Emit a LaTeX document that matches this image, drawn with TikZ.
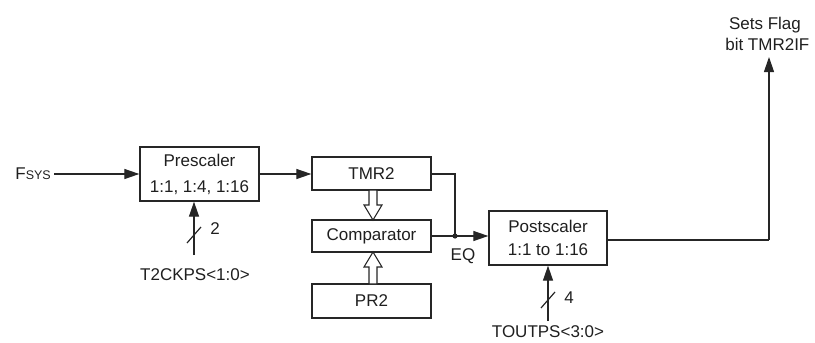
\documentclass[tikz,border=0pt]{standalone}
\usepackage{fontspec}
\setmainfont{Liberation Sans}
\usetikzlibrary{arrows.meta}
\begin{document}
\begin{tikzpicture}[x=1pt,y=-1pt,
  every node/.style={font=\fontsize{17}{26}\selectfont, text=black!88},
  blk/.style={draw=black!85, line width=1.3pt, fill=white, inner sep=0pt, align=center},
  conn/.style={draw=black!85, line width=1.2pt},
  arr/.style={conn, -{Triangle[length=15pt,width=10pt]}},
  hollow/.style={draw=black!85, line width=1.1pt, fill=white},
  lbl/.style={inner sep=0pt, anchor=base}]
\useasboundingbox (0,0) rectangle (815,343);

% blocks
\node[blk, minimum width=119pt, minimum height=54pt] (pre) at (199.5,174) {Prescaler\\1:1, 1:4, 1:16};
\node[blk, minimum width=119pt, minimum height=33pt] (tmr) at (371.5,173.5) {TMR2};
\node[blk, minimum width=119pt, minimum height=32pt] (cmp) at (371.5,236) {Comparator};
\node[blk, minimum width=119pt, minimum height=34pt] (pr) at (371.5,301) {PR2};
\node[blk, minimum width=118pt, minimum height=54pt, font=\fontsize{17}{23}\selectfont] (post) at (548,238) {Postscaler\\1:1 to 1:16};

% labels
\node[inner sep=0pt, anchor=east] (fsys) at (51,174) {F{\fontsize{12.5}{14}\selectfont SYS}};
\node[lbl] (t2) at (195,280) {T2CKPS<1:0>};
\node[lbl] (tout) at (548,337) {TOUTPS<3:0>};
\node[inner sep=0pt, align=center, anchor=south, font=\fontsize{17}{21}\selectfont] (flag) at (765,51) {Sets Flag\\\ bit TMR2IF};
\node[lbl] (two) at (215,234) {2};
\node[lbl] (four) at (569,303) {4};
\node[lbl] (eq) at (463,260) {EQ};

% coordinates
\coordinate (t2s) at (194,255);
\coordinate (tos) at (548,321);
\coordinate (jn) at (455,236);
\coordinate (tr) at (455,174);
\coordinate (turn) at (769,240);

% connectors
\draw[arr] (54,174) -- (pre.west);
\draw[conn] (fsys.east) ++(3,0) -- (54,174);
\draw[arr] (pre.east) -- (tmr.west |- pre.east);
\draw[arr] (t2s) -- (pre.south -| t2s);
\draw[conn] (187,243) -- (201,227);
\draw[arr] (tos) -- (post.south -| tos);
\draw[conn] (541,308) -- (555,292);
\draw[conn] (tmr.east |- tr) -- (tr) -- (jn);
\draw[arr] (cmp.east) -- (post.west |- cmp.east);
\fill[black!85] (jn) circle (2.6pt);
\draw[conn] (post.east |- turn) -- (turn);
\draw[arr] (turn) -- (turn |- 0,57);

% hollow arrows
\draw[hollow] (369,190) -- (377,190) -- (377,205) -- (382,205) -- (373,220) -- (364,205) -- (369,205) -- cycle;
\draw[hollow] (369,284) -- (377,284) -- (377,267) -- (382,267) -- (373,252) -- (364,267) -- (369,267) -- cycle;
\end{tikzpicture}
\end{document}
